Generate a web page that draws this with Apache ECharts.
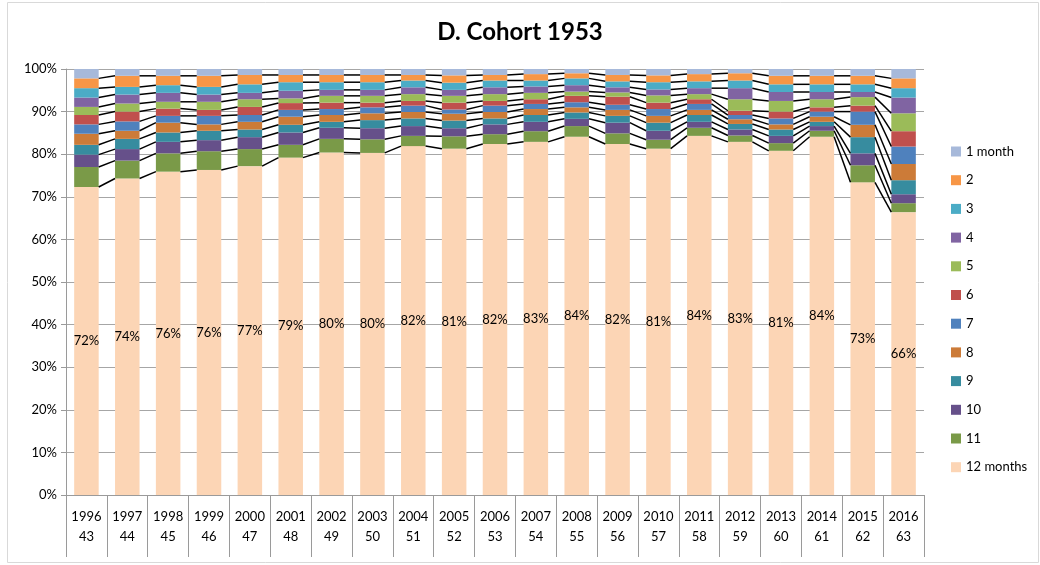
<!DOCTYPE html>
<html>
<head>
<meta charset="utf-8">
<script src="https://cdn.jsdelivr.net/npm/echarts@6/dist/echarts.min.js"></script>
<style>
  html, body { margin: 0; padding: 0; background: #fff; }
  #chart { width: 1040px; height: 565px; }
</style>
</head>
<body>
<div id="chart"></div>
<script>
const years = ['1996', '1997', '1998', '1999', '2000', '2001', '2002', '2003', '2004', '2005', '2006',
  '2007', '2008', '2009', '2010', '2011', '2012', '2013', '2014', '2015', '2016'];
const ages = ['43', '44', '45', '46', '47', '48', '49', '50', '51', '52', '53',
  '54', '55', '56', '57', '58', '59', '60', '61', '62', '63'];

// share (%) of each duration per year, bottom (12 months) to top (1 month)
const m12 = [72.3, 74.3, 75.9, 76.3, 77.2, 79.2, 80.4, 80.3, 81.9, 81.3, 82.4, 82.9, 84.1, 82.4, 81.3, 84.3, 82.9, 80.8, 84.1, 73.4, 66.4];
const m11 = [4.7, 4.2, 4.3, 4.4, 4.0, 3.0, 3.2, 3.2, 2.4, 2.9, 2.3, 2.5, 2.5, 2.5, 2.1, 1.9, 1.5, 1.8, 1.4, 4.0, 2.1];
const m10 = [2.9, 2.7, 2.7, 2.6, 2.8, 2.9, 2.6, 2.6, 2.3, 1.9, 2.3, 2.2, 1.7, 2.5, 2.1, 1.4, 1.4, 1.7, 1.1, 2.8, 2.1];
const m9 = [2.3, 2.4, 2.2, 2.2, 1.8, 1.8, 1.4, 1.9, 1.8, 1.8, 1.4, 1.6, 1.5, 1.6, 1.9, 1.6, 1.3, 1.5, 1.0, 3.8, 3.3];
const m8 = [2.6, 1.9, 2.3, 1.5, 1.8, 1.9, 1.6, 1.6, 1.5, 1.6, 1.5, 1.4, 1.2, 1.4, 1.6, 1.2, 1.1, 1.2, 1.2, 2.9, 3.8];
const m7 = [2.2, 2.2, 1.6, 2.0, 1.6, 1.6, 1.4, 1.4, 1.5, 1.0, 1.5, 1.2, 1.2, 1.2, 1.6, 1.4, 1.0, 1.4, 1.2, 3.1, 4.1];
const m6 = [2.2, 2.3, 1.7, 1.4, 1.9, 1.6, 1.5, 1.1, 1.1, 1.6, 1.1, 1.1, 1.5, 1.9, 1.5, 1.1, 1.0, 1.6, 1.0, 1.4, 3.6];
const m5 = [1.9, 1.9, 1.6, 1.9, 1.8, 1.1, 1.6, 1.6, 1.6, 1.6, 1.6, 1.5, 1.0, 1.0, 1.7, 1.2, 2.7, 2.5, 1.9, 2.0, 4.2];
const m4 = [2.2, 2.1, 2.1, 1.7, 1.5, 1.8, 1.4, 1.4, 1.6, 1.4, 1.6, 1.5, 1.5, 1.2, 1.4, 1.4, 2.6, 2.1, 1.7, 1.2, 3.7];
const m3 = [2.2, 1.8, 1.8, 1.8, 2.0, 2.0, 1.8, 1.8, 1.6, 1.7, 1.6, 1.4, 1.6, 1.4, 1.7, 1.6, 1.8, 1.8, 1.8, 1.8, 2.2];
const m2 = [2.3, 2.6, 2.2, 2.6, 2.2, 1.7, 1.7, 1.7, 1.3, 1.7, 1.3, 1.5, 1.2, 1.5, 1.6, 1.7, 1.7, 2.0, 2.0, 2.0, 2.3];
const m1 = [2.2, 1.6, 1.6, 1.6, 1.4, 1.4, 1.4, 1.4, 1.4, 1.5, 1.4, 1.2, 1.0, 1.4, 1.5, 1.2, 1.0, 1.6, 1.6, 1.6, 2.2];

const seriesNames = ['12 months', '11', '10', '9', '8', '7', '6', '5', '4', '3', '2', '1 month'];
const seriesValues = [m12, m11, m10, m9, m8, m7, m6, m5, m4, m3, m2, m1];
const colors = ['#FCD5B5', '#7A9A48', '#66508A', '#378C9F', '#CC7B38', '#4F81BD',
  '#C0504D', '#9BBB59', '#8064A2', '#4BACC6', '#F79646', '#A7B9DA'];

const font = 'Lato, "Open Sans", sans-serif';
const barRatio = 0.6;

// series lines: join each stack boundary of one bar to the next bar
const joinData = [];
for (let i = 0; i < years.length - 1; i++) {
  let a = 0, b = 0;
  for (let k = 0; k < seriesValues.length - 1; k++) {
    a += seriesValues[k][i];
    b += seriesValues[k][i + 1];
    joinData.push([i, a, b]);
  }
}

const chart = echarts.init(document.getElementById('chart'));

const barSeries = seriesNames.map((name, k) => ({
  name: name,
  type: 'bar',
  stack: 'total',
  barWidth: (barRatio * 100) + '%',
  data: seriesValues[k],
  itemStyle: { color: colors[k] },
  label: k === 0 ? {
    show: true,
    position: 'inside',
    color: '#000',
    fontFamily: font,
    fontSize: 13,
    formatter: p => Math.round(p.value) + '%'
  } : { show: false },
  emphasis: { disabled: true }
}));

chart.setOption({
  animation: false,
  title: {
    text: 'D. Cohort 1953',
    left: 'center',
    top: 15,
    textStyle: { fontFamily: font, fontSize: 24, fontWeight: 'bold', color: '#000' }
  },
  graphic: [{
    type: 'rect',
    shape: { x: 7.5, y: 2.5, width: 1031, height: 560 },
    style: { fill: 'none', stroke: '#d9d9d9', lineWidth: 1 },
    silent: true
  }],
  legend: {
    orient: 'vertical',
    left: 946,
    top: 140,
    itemWidth: 10,
    itemHeight: 10,
    itemGap: 15.7,
    icon: 'rect',
    data: seriesNames.slice().reverse(),
    textStyle: { fontFamily: font, fontSize: 13, color: '#000' }
  },
  grid: { left: 66, right: 116, top: 69, bottom: 70 },
  xAxis: {
    type: 'category',
    data: years,
    axisLine: { lineStyle: { color: '#9a9a9a', width: 1 } },
    axisTick: { show: true, interval: 0, length: 62, lineStyle: { color: '#9a9a9a' } },
    axisLabel: {
      interval: 0,
      margin: 12,
      color: '#000',
      fontFamily: font,
      fontSize: 13,
      lineHeight: 20,
      formatter: (v, i) => v + '\n' + ages[i]
    }
  },
  yAxis: {
    type: 'value',
    min: 0,
    max: 100,
    interval: 10,
    axisLine: { show: true, lineStyle: { color: '#9a9a9a' } },
    axisTick: { show: true, length: 5, lineStyle: { color: '#9a9a9a' } },
    splitLine: { lineStyle: { color: '#a6a6a6', width: 1 } },
    axisLabel: {
      formatter: '{value}%',
      color: '#000',
      fontFamily: font,
      fontSize: 13,
      margin: 9
    }
  },
  series: barSeries.concat([{
    type: 'custom',
    name: 'joins',
    z: 5,
    silent: true,
    data: joinData,
    encode: { x: 0, y: 1 },
    renderItem: (params, api) => {
      const i = api.value(0);
      const p1 = api.coord([i, api.value(1)]);
      const p2 = api.coord([i + 1, api.value(2)]);
      const half = api.size([1, 0])[0] * barRatio / 2;
      return {
        type: 'line',
        shape: { x1: p1[0] + half, y1: p1[1], x2: p2[0] - half, y2: p2[1] },
        style: { stroke: '#000', lineWidth: 1.5 }
      };
    }
  }])
});
</script>
</body>
</html>
